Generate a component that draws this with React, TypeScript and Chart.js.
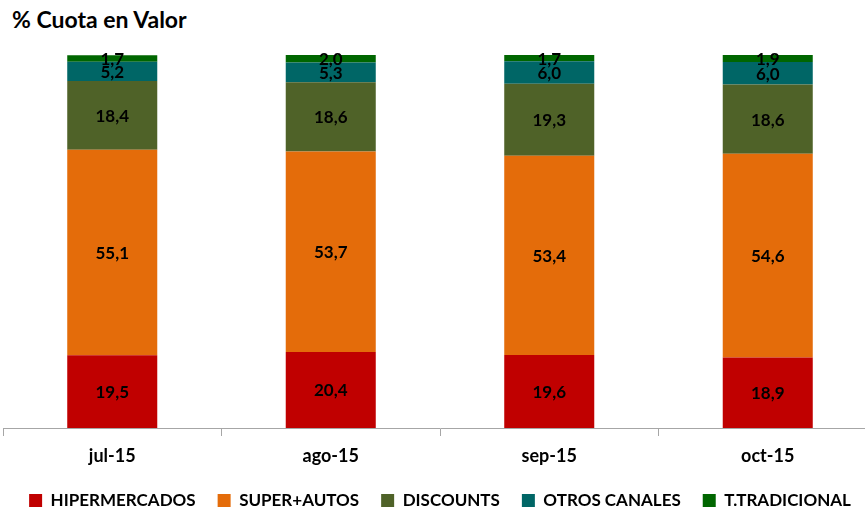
import { useEffect, useRef } from "react";
import { Chart, registerables } from "chart.js";

Chart.register(...registerables);

const months = ["jul-15", "ago-15", "sep-15", "oct-15"];
const hipermercados = [19.5, 20.4, 19.6, 18.9];
const superAutos = [55.1, 53.7, 53.4, 54.6];
const discounts = [18.4, 18.6, 19.3, 18.6];
const otrosCanales = [5.2, 5.3, 6.0, 6.0];
const tradicional = [1.7, 2.0, 1.7, 1.9];

const seriesNames = ["HIPERMERCADOS", "SUPER+AUTOS", "DISCOUNTS", "OTROS CANALES", "T.TRADICIONAL"];
const seriesValues = [hipermercados, superAutos, discounts, otrosCanales, tradicional];
const seriesColors = ["#C00000", "#E46C0A", "#4F6228", "#006666", "#006600"];

const FONT = "Lato, 'Open Sans', sans-serif";

// Writes each segment's share (decimal comma) in the middle of the segment.
const segmentLabels = {
  id: "segmentLabels",
  afterDatasetsDraw(chart: any) {
    const ctx = chart.ctx;
    ctx.save();
    ctx.font = `bold 17px ${FONT}`;
    ctx.fillStyle = "#000000";
    ctx.textAlign = "center";
    ctx.textBaseline = "middle";
    chart.data.datasets.forEach((ds: any, i: number) => {
      const meta = chart.getDatasetMeta(i);
      meta.data.forEach((bar: any, j: number) => {
        const v = ds.data[j] as number;
        const { x, y, base } = bar.getProps(["x", "y", "base"], true);
        ctx.fillText(v.toFixed(1).replace(".", ","), x, (y + base) / 2 + 1);
      });
    });
    ctx.restore();
  },
};

export default function App() {
  const canvasRef = useRef<HTMLCanvasElement | null>(null);

  useEffect(() => {
    if (!canvasRef.current) return;
    const chart = new Chart(canvasRef.current, {
      type: "bar",
      data: {
        labels: months,
        datasets: seriesNames.map((name, i) => ({
          label: name,
          data: seriesValues[i],
          backgroundColor: seriesColors[i],
          borderWidth: 0,
          categoryPercentage: 1,
          barPercentage: 0.412,
        })),
      },
      options: {
        responsive: false,
        maintainAspectRatio: false,
        animation: false,
        layout: { padding: { top: 55, left: 3, right: 3, bottom: 0 } },
        plugins: {
          title: { display: false },
          tooltip: { enabled: false },
          legend: {
            position: "bottom",
            labels: {
              boxWidth: 13,
              boxHeight: 13,
              padding: 22,
              color: "#000000",
              font: { family: FONT, size: 17, weight: "bold" },
            },
          },
        },
        scales: {
          x: {
            stacked: true,
            grid: {
              display: true,
              drawOnChartArea: false,
              drawTicks: true,
              tickLength: 8,
              color: "#A6A6A6",
              offset: true,
            },
            border: { display: true, color: "#A6A6A6", width: 1 },
            ticks: {
              color: "#000000",
              padding: 9,
              font: { family: FONT, size: 18, weight: "bold" },
            },
            afterFit: (scale: any) => {
              scale.height = 42;
            },
          },
          y: {
            stacked: true,
            display: false,
            min: 0,
            max: 100,
          },
        },
      },
      plugins: [segmentLabels],
    });
    return () => chart.destroy();
  }, []);

  return (
    <div
      style={{
        position: "fixed",
        left: 0,
        top: 0,
        width: 865,
        height: 509,
        overflow: "hidden",
        background: "#ffffff",
      }}
    >
      <div
        style={{
          position: "absolute",
          left: 12,
          top: 5,
          fontFamily: FONT,
          fontWeight: "bold",
          fontSize: 23,
          color: "#000000",
          whiteSpace: "nowrap",
        }}
      >
        % Cuota en Valor
      </div>
      <canvas
        ref={canvasRef}
        width={880}
        height={519}
        style={{ position: "absolute", left: 0, top: 0, width: 880, height: 519 }}
      />
    </div>
  );
}
